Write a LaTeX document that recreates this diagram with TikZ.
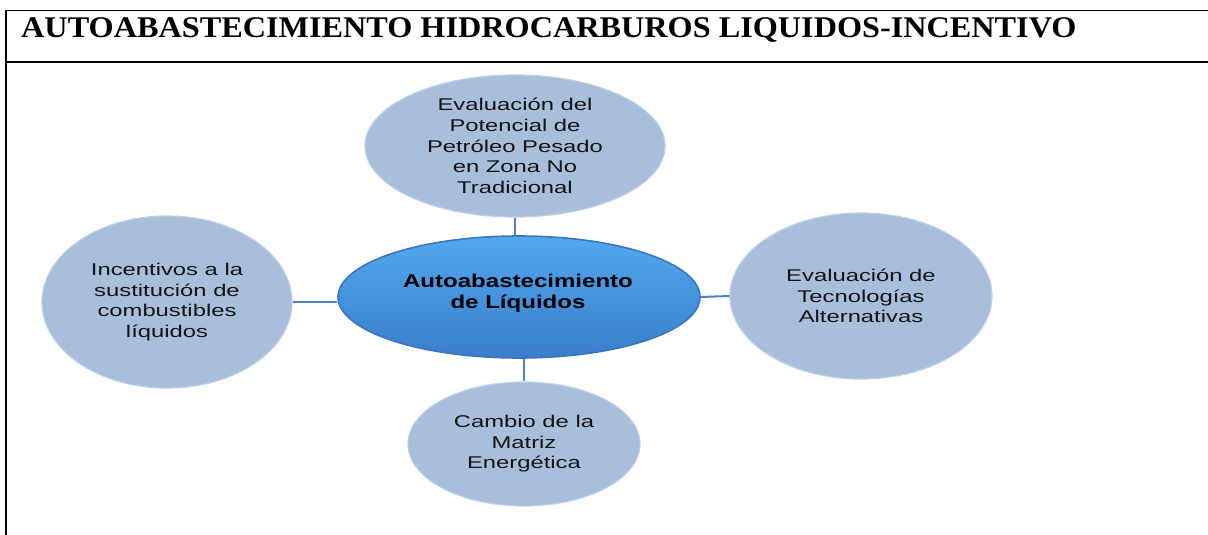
\documentclass[tikz,border=0pt]{standalone}
\usepackage{fontspec}
\setmainfont{Liberation Serif}
\newfontfamily\titlefont[FakeStretch=1.075]{Liberation Serif}
\newfontfamily\ofont[FakeStretch=1.4]{Liberation Sans}
\newfontfamily\cfont[FakeStretch=1.3]{Liberation Sans}
\usetikzlibrary{shapes.geometric}
\definecolor{oval}{RGB}{168,191,220}
\definecolor{ovalrim}{RGB}{190,206,228}
\definecolor{conn}{RGB}{79,129,189}
\definecolor{ctop}{RGB}{82,168,240}
\definecolor{cbot}{RGB}{58,126,202}
\definecolor{cedge}{RGB}{60,118,186}
\definecolor{txt}{RGB}{20,20,20}
\tikzset{
  outer/.style={ellipse, fill=oval, draw=ovalrim, line width=1.2pt, inner sep=0pt,
    align=center, text=txt, font=\ofont\fontsize{17}{20.6}\selectfont},
  hub/.style={ellipse, top color=ctop, bottom color=cbot, draw=cedge, line width=1.6pt, inner sep=0pt},
  hubtext/.style={align=center, text=black, font=\cfont\bfseries\fontsize{18.5}{21}\selectfont},
  link/.style={draw=conn, line width=2pt},
  frame/.style={draw=black, line width=1.8pt}
}
\begin{document}
\begin{tikzpicture}[x=1pt,y=-1pt]
\useasboundingbox (0,0) rectangle (1208,535);
% frame
\coordinate (tl) at (6,10.5);
\coordinate (tr) at (1208,10.5);
\coordinate (ml) at (6,62);
\coordinate (mr) at (1208,62);
\coordinate (bl) at (6,535);
\draw[frame] (tr) -- (tl) -- (bl);
\draw[frame] (ml) -- (mr);
\node[anchor=base west, inner sep=0pt, font=\titlefont\bfseries\fontsize{30}{32}\selectfont] (title) at (21,38)
  {AUTOABASTECIMIENTO HIDROCARBUROS LIQUIDOS-INCENTIVO};
% hub
\node[hub, minimum width=362pt, minimum height=122pt] (c) at (519,297) {};
\node[hubtext] (ctext) at (518,293) {Autoabastecimiento\\de Líquidos};
% outer ellipses
\node[outer, minimum width=300pt, minimum height=142pt] (top) at (515,146)
  {Evaluación del\\Potencial de\\Petróleo Pesado\\en Zona No\\Tradicional};
\node[outer, minimum width=250pt, minimum height=172pt] (left) at (167,302)
  {Incentivos a la\\sustitución de\\combustibles\\líquidos};
\node[outer, minimum width=262pt, minimum height=166pt] (right) at (861,296)
  {Evaluación de\\Tecnologías\\Alternativas};
\node[outer, minimum width=232pt, minimum height=124pt] (bottom) at (524,444)
  {Cambio de la\\Matriz\\Energética};
% connectors
\draw[link] (top.south) -- (top.south |- c.north);
\draw[link] (left.east) -- (left.east -| c.west);
\draw[link] (c.east) -- (right.west);
\draw[link] (bottom.north |- c.south) -- (bottom.north);
\end{tikzpicture}
\end{document}
